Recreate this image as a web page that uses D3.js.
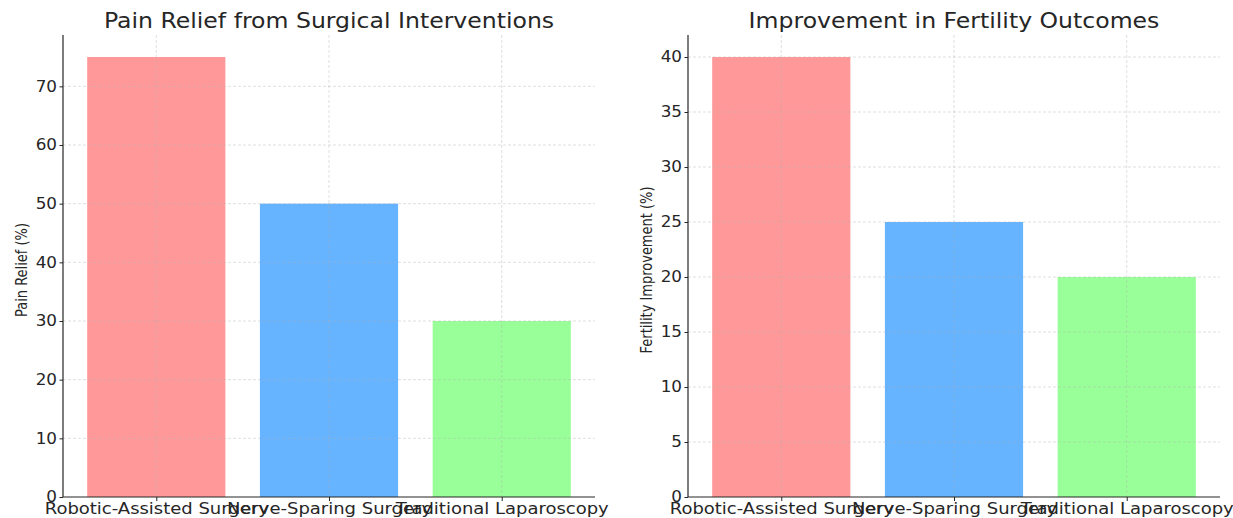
<!DOCTYPE html>
<html>
<head>
<meta charset="utf-8">
<script src="https://cdn.jsdelivr.net/npm/d3@7"></script>
<style>
  body { margin: 0; background: #fff; }
  svg { display: block; }
  text { font-family: "DejaVu Sans", sans-serif; fill: #262626; }
</style>
</head>
<body>
<svg id="chart" width="1233" height="518"></svg>
<script>
// Surgical interventions compared in both panels
const categories = ["Robotic-Assisted Surgery", "Nerve-Sparing Surgery", "Traditional Laparoscopy"];
const painRelief = [75, 50, 30];
const fertilityImprovement = [40, 25, 20];
const painTicks = [0, 10, 20, 30, 40, 50, 60, 70];
const fertilityTicks = [0, 5, 10, 15, 20, 25, 30, 35, 40];
const barColors = ["#ff9999", "#66b3ff", "#99ff99"];

const svg = d3.select("#chart");

// Text is rendered slightly wide
const TICK_SX = 1.12, XLAB_SX = 1.2, TITLE_SX = 1.15, YLAB_SX = 1.25;

function drawPanel(opts) {
  const { left, right, top, bottom, values, ticks, title, yLabel, yLabelX } = opts;
  const g = svg.append("g");

  // Bar width 0.8 of the step, 5% margin beyond the outer bar edges
  const n = categories.length;
  const x = d3.scaleLinear()
    .domain([-0.4 - 0.14, (n - 1) + 0.4 + 0.14])
    .range([left, right]);
  const yMax = d3.max(values) * 1.05;
  const y = d3.scaleLinear().domain([0, yMax]).range([bottom, top]);
  const bw = x(0.8) - x(0);

  // Bars
  g.selectAll("rect.bar")
    .data(values)
    .join("rect")
    .attr("class", "bar")
    .attr("x", (d, i) => x(i - 0.4))
    .attr("width", bw)
    .attr("y", d => y(d))
    .attr("height", d => y(0) - y(d))
    .attr("fill", (d, i) => barColors[i]);

  // Dashed grid drawn over the bars
  const grid = g.append("g").attr("stroke", "#b0b0b0").attr("stroke-opacity", 0.5)
    .attr("stroke-dasharray", "3,2").attr("stroke-width", 0.8);
  grid.selectAll("line.h").data(ticks.filter(t => t > 0)).join("line")
    .attr("x1", left).attr("x2", right)
    .attr("y1", d => y(d)).attr("y2", d => y(d));
  grid.selectAll("line.v").data(d3.range(n)).join("line")
    .attr("x1", d => x(d)).attr("x2", d => x(d))
    .attr("y1", top).attr("y2", bottom);

  // Y axis
  const tickLen = 3.5, tickPad = 2.5;
  const yAxis = d3.axisLeft(y).tickValues(ticks).tickSize(tickLen).tickPadding(tickPad)
    .tickFormat(d3.format("d"));
  const ya = g.append("g").attr("transform", `translate(${left},0)`).call(yAxis);
  ya.select(".domain").attr("stroke", "#262626").attr("stroke-width", 1.2)
    .attr("d", `M0,${top}V${bottom}`);
  ya.selectAll(".tick line").attr("stroke", "#262626");
  ya.selectAll(".tick text").attr("font-size", 15).attr("fill", "#262626")
    .attr("font-family", "DejaVu Sans, sans-serif")
    .attr("x", 0)
    .attr("transform", `translate(${-(tickLen + tickPad)},0) scale(${TICK_SX},1)`);

  // X axis
  const xAxis = d3.axisBottom(x).tickValues(d3.range(n)).tickSize(4).tickPadding(2)
    .tickFormat(i => categories[i]);
  const xa = g.append("g").attr("transform", `translate(0,${bottom})`).call(xAxis);
  xa.select(".domain").attr("stroke", "#262626").attr("stroke-width", 1.2)
    .attr("d", `M${left},0H${right}`);
  xa.selectAll(".tick line").attr("stroke", "#262626");
  xa.selectAll(".tick text").attr("font-size", 15).attr("fill", "#262626")
    .attr("font-family", "DejaVu Sans, sans-serif")
    .attr("transform", `scale(${XLAB_SX},1)`);

  // Title
  g.append("text")
    .attr("transform", `translate(${(left + right) / 2},28) scale(${TITLE_SX},1)`)
    .attr("text-anchor", "middle").attr("font-size", 20.5)
    .text(title);

  // Y label
  g.append("text")
    .attr("transform", `translate(${yLabelX},${(top + bottom) / 2 + 4}) scale(${YLAB_SX},1) rotate(-90)`)
    .attr("text-anchor", "middle").attr("font-size", 13)
    .text(yLabel);
}

drawPanel({
  left: 63, right: 595, top: 35, bottom: 497,
  values: painRelief, ticks: painTicks,
  title: "Pain Relief from Surgical Interventions",
  yLabel: "Pain Relief (%)", yLabelX: 27
});

drawPanel({
  left: 688, right: 1220, top: 35, bottom: 497,
  values: fertilityImprovement, ticks: fertilityTicks,
  title: "Improvement in Fertility Outcomes",
  yLabel: "Fertility Improvement (%)", yLabelX: 652
});
</script>
</body>
</html>
